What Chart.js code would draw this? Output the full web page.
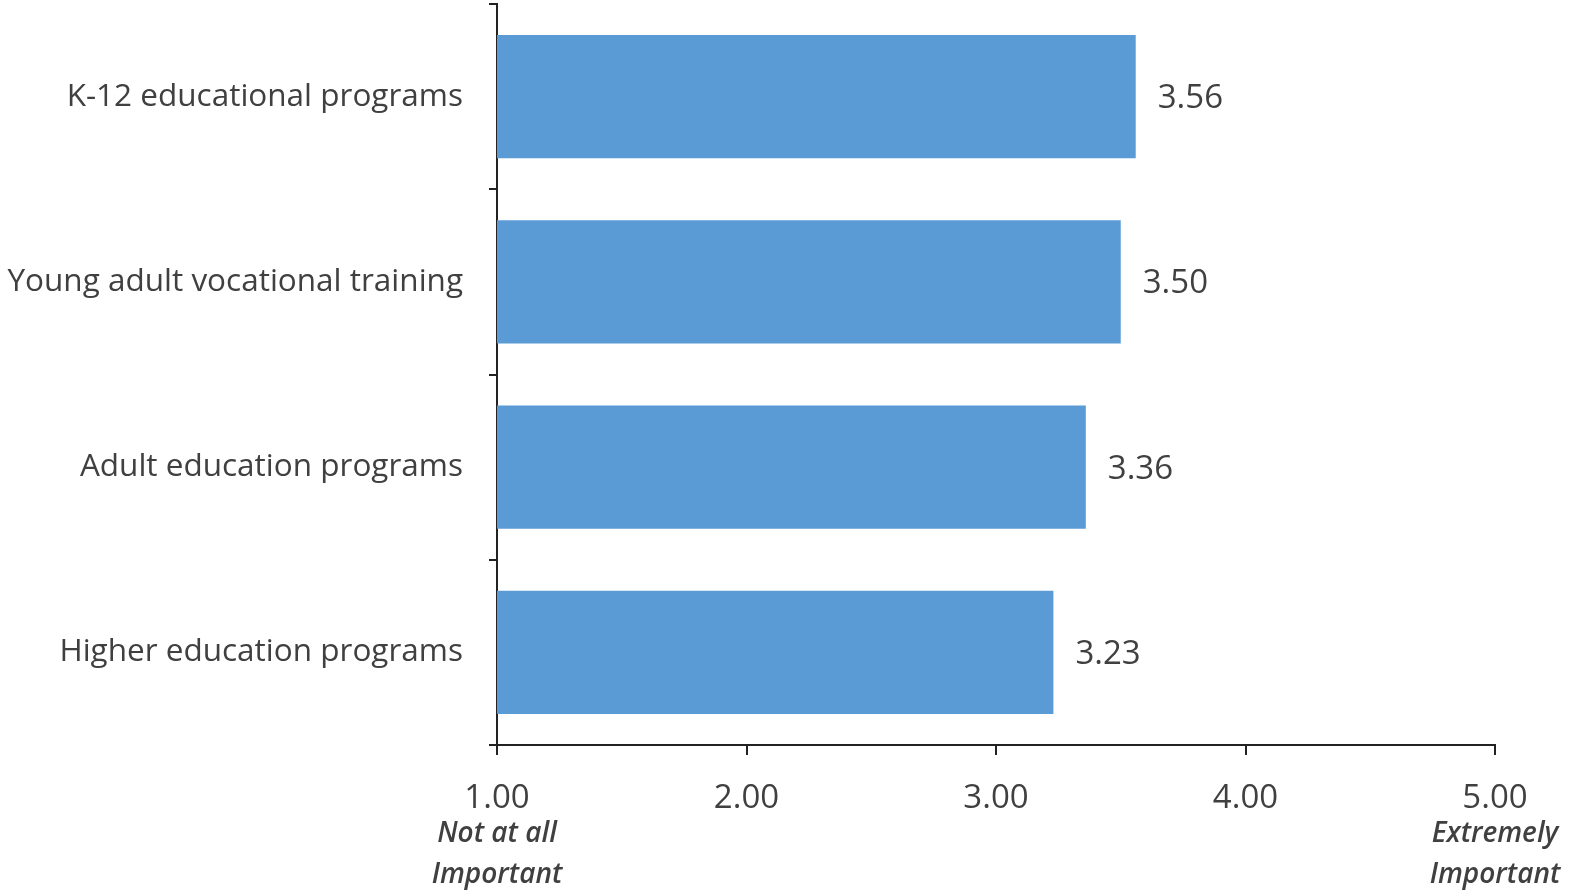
<!DOCTYPE html>
<html>
<head>
<meta charset="utf-8">
<script src="https://cdn.jsdelivr.net/npm/chart.js@4"></script>
<style>
  html, body { margin: 0; padding: 0; background: #fff; }
  #wrap { width: 1570px; height: 891px; }
</style>
</head>
<body>
<div id="wrap"><canvas id="chart"></canvas></div>
<script>
// --- Data ---
const categories = [
  'K-12 educational programs',
  'Young adult vocational training',
  'Adult education programs',
  'Higher education programs'
];
const scores = [3.56, 3.50, 3.36, 3.23];
const xTicks = [1, 2, 3, 4, 5];
const xMin = 1;
const xMax = 5;
// extra lines under the end ticks
const tickNotes = { 1: ['Not at all', 'Important'], 5: ['Extremely', 'Important'] };

const FONT = "'Open Sans', sans-serif";
const TEXT = '#404040';
const AXIS = '#222';

// --- Value labels at bar ends ---
const valueLabels = {
  id: 'valueLabels',
  afterDatasetsDraw(chart) {
    const ctx = chart.ctx;
    const meta = chart.getDatasetMeta(0);
    ctx.save();
    ctx.font = '33px ' + FONT;
    ctx.fillStyle = TEXT;
    ctx.textAlign = 'left';
    ctx.textBaseline = 'middle';
    meta.data.forEach((bar, i) => {
      ctx.fillText(scores[i].toFixed(2), bar.x + 22, bar.y + 2);
    });
    ctx.restore();
  }
};

// --- Italic notes under first/last x tick ---
const tickNotesPlugin = {
  id: 'tickNotes',
  afterDraw(chart) {
    const ctx = chart.ctx;
    const xs = chart.scales.x;
    ctx.save();
    ctx.font = 'italic 600 28px ' + FONT;
    ctx.fillStyle = TEXT;
    ctx.textAlign = 'center';
    ctx.textBaseline = 'middle';
    Object.keys(tickNotes).forEach(v => {
      const px = xs.getPixelForValue(Number(v));
      tickNotes[v].forEach((line, j) => {
        ctx.fillText(line, px, 834 + j * 41);
      });
    });
    ctx.restore();
  }
};

const chart = new Chart(document.getElementById('chart'), {
  type: 'bar',
  data: {
    labels: categories,
    datasets: [{
      data: scores,
      backgroundColor: '#5B9BD5',
      borderWidth: 0,
      categoryPercentage: 1,
      barPercentage: 0.665
    }]
  },
  options: {
    indexAxis: 'y',
    responsive: true,
    maintainAspectRatio: false,
    animation: false,
    layout: { padding: { top: 4, right: 75, left: 0, bottom: 0 } },
    plugins: {
      legend: { display: false },
      tooltip: { enabled: false }
    },
    scales: {
      x: {
        min: xMin,
        max: xMax,
        afterBuildTicks(scale) {
          scale.ticks = xTicks.map(v => ({ value: v }));
        },
        afterFit(scale) { scale.height = 146; },
        border: { display: true, color: AXIS, width: 2 },
        grid: {
          drawOnChartArea: false,
          drawTicks: true,
          tickLength: 10,
          color: AXIS,
          lineWidth: 2
        },
        ticks: {
          padding: 24,
          color: TEXT,
          font: { family: FONT, size: 33 },
          maxRotation: 0,
          callback: v => Number(v).toFixed(2)
        }
      },
      y: {
        afterFit(scale) {
          scale.width = 497;
          scale.paddingTop = 0;
          scale.paddingBottom = 0;
        },
        border: { display: true, color: AXIS, width: 2 },
        grid: {
          drawOnChartArea: false,
          drawTicks: true,
          tickLength: 8,
          color: AXIS,
          lineWidth: 2,
          offset: true
        },
        ticks: {
          padding: 26,
          color: TEXT,
          font: { family: FONT, size: 31.5 }
        }
      }
    }
  },
  plugins: [valueLabels, tickNotesPlugin]
});
</script>
</body>
</html>
